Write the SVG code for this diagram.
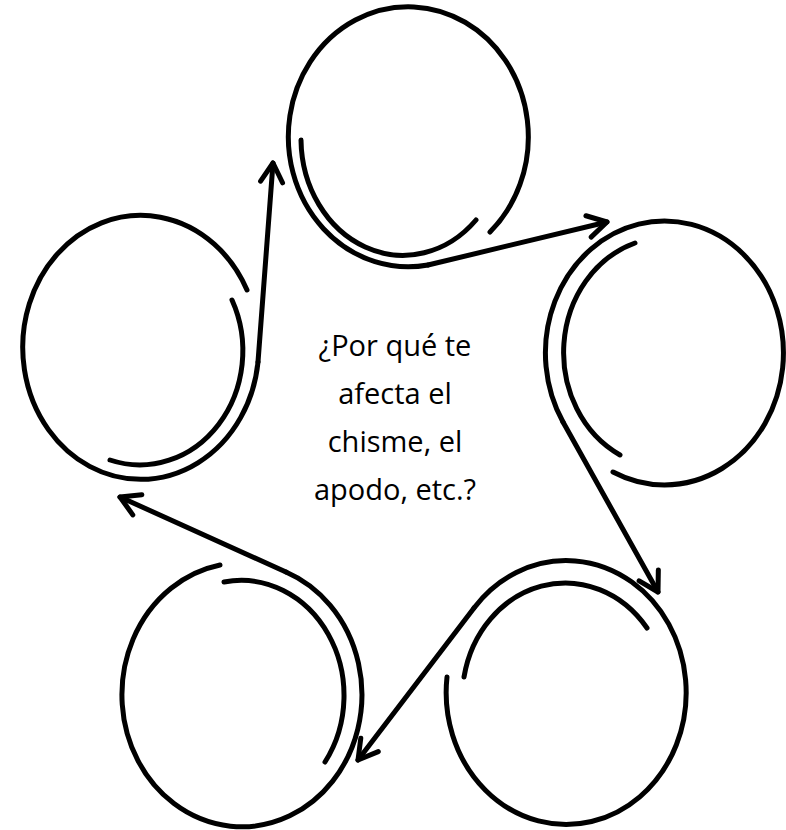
<svg xmlns="http://www.w3.org/2000/svg" width="786" height="830" viewBox="0 0 786 830">
  <style>
    .ln { fill: none; stroke: #000; stroke-width: 5; stroke-linecap: round; stroke-linejoin: round; }
    .lbl { font-family: "Open Sans", "Liberation Sans", sans-serif; font-size: 29px; fill: #000; text-anchor: middle; }
  </style>
  <defs>
    <marker id="ah" viewBox="-25 -15 30 30" markerWidth="30" markerHeight="30" refX="0" refY="0" orient="auto" markerUnits="userSpaceOnUse" overflow="visible">
      <path d="M-19,-11 L0,0 L-19,11" fill="none" stroke="#000" stroke-width="5" stroke-linecap="round" stroke-linejoin="round"/>
    </marker>
  </defs>
  <rect width="786" height="830" fill="#fff"/>

  <g id="node-top">
    <path class="ln" d="M490,232 A120 130 0 1 0 428,265"/>
    <path class="ln" d="M301,140 A102 117 0 0 0 476,220"/>
  </g>
  <g id="node-right">
    <path class="ln" d="M613,472 A119 132 0 1 0 563,422"/>
    <path class="ln" d="M635,243 A103 115 0 0 0 620,455"/>
  </g>
  <g id="node-bottom-right">
    <path class="ln" d="M447,677 A120 132 0 1 0 474,608"/>
    <path class="ln" d="M464,677 A103 115 0 0 1 647,628"/>
  </g>
  <g id="node-bottom-left">
    <path class="ln" d="M220,565 A120 132 0 1 0 286,572"/>
    <path class="ln" d="M224,582 A103 115 0 0 1 325,762"/>
  </g>
  <g id="node-left">
    <path class="ln" d="M247,290 A118 132 0 1 0 258,362"/>
    <path class="ln" d="M232,300 A103 114 0 0 1 110,460"/>
  </g>

  <g id="connectors">
    <path class="ln" d="M428,265 L607,222" marker-end="url(#ah)"/>
    <path class="ln" d="M563,422 L658,592" marker-end="url(#ah)"/>
    <path class="ln" d="M474,608 L358,760" marker-end="url(#ah)"/>
    <path class="ln" d="M286,572 L120,497" marker-end="url(#ah)"/>
    <path class="ln" d="M258,362 L273,163" marker-end="url(#ah)"/>
  </g>

  <g id="center-text">
    <text class="lbl" x="395" y="356">¿Por qué te</text>
    <text class="lbl" x="395" y="404">afecta el</text>
    <text class="lbl" x="395" y="452">chisme, el</text>
    <text class="lbl" x="395" y="500">apodo, etc.?</text>
  </g>
</svg>
